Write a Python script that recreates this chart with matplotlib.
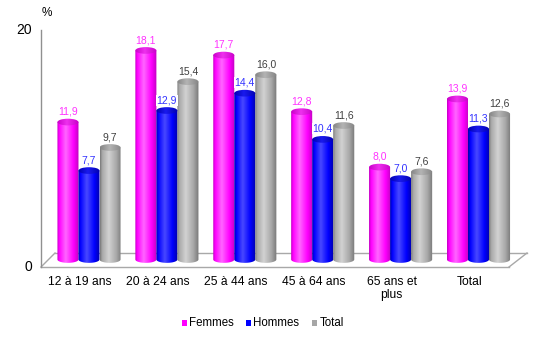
import numpy as np
import matplotlib
matplotlib.use("Agg")
import matplotlib.pyplot as plt
from matplotlib.patches import Ellipse, Polygon, Rectangle
from matplotlib.colors import LinearSegmentedColormap

plt.rcParams['font.family'] = ['Liberation Sans', 'DejaVu Sans']

# données
categories = ['12 à 19 ans', '20 à 24 ans', '25 à 44 ans', '45 à 64 ans', '65 ans et\nplus', 'Total']
series_names = ['Femmes', 'Hommes', 'Total']
femmes = [11.9, 18.1, 17.7, 12.8, 8.0, 13.9]
hommes = [7.7, 12.9, 14.4, 10.4, 7.0, 11.3]
total = [9.7, 15.4, 16.0, 11.6, 7.6, 12.6]
yticks = [0, 20]

# couleurs : (bord sombre, base, reflet), couleur du dessus, couleur du texte, légende
styles = [
    (('#c000c0', '#ff00ff', '#ff66ff'), ('#c800c8', '#ee30ee'), '#ff33ff', '#ff00ff'),
    (('#0000a8', '#0000ff', '#4848ff'), ('#0000b0', '#1a1aee'), '#3333ff', '#0000ff'),
    (('#767676', '#a8a8a8', '#d2d2d2'), ('#848484', '#b4b4b4'), '#404040', '#a6a6a6'),
]

fig = plt.figure(figsize=(5.5, 3.39), dpi=100)

# axe décoratif en pixels (sol, axe vertical, légende)
deco = fig.add_axes([0, 0, 1, 1], zorder=0)
deco.set_xlim(0, 550)
deco.set_ylim(339, 0)
deco.axis('off')

gc = '#a8a8a8'
deco.plot([55, 527], [253, 253], color=gc, lw=1)
deco.plot([41, 55], [267, 253], color=gc, lw=1)
deco.plot([41, 509], [267, 267], color=gc, lw=1)
deco.plot([509, 527], [267, 253], color=gc, lw=1)
deco.plot([41, 41], [30, 267], color='#909090', lw=1)

# axe des données
ax = fig.add_axes([0, 0, 1, 1], zorder=1)
ax.patch.set_alpha(0)
ax.axis('off')

px_x, px_w = 89.0, 77.9
px_y, px_h = 259.5, 11.55
xlim = (-px_x / px_w, (550 - px_x) / px_w)
ylim = ((px_y - 339) / px_h, px_y / px_h)

width = 0.27
eh = 0.58
x = np.arange(len(categories))
grad = np.linspace(0, 1, 256).reshape(1, -1)

for k, vals in enumerate([femmes, hommes, total]):
    (dark, base, light), (tdark, tlight), tcol, lcol = styles[k]
    body = LinearSegmentedColormap.from_list('b', [(0, dark), (0.1, base), (0.4, light),
                                                   (0.75, base), (1, dark)])
    topc = LinearSegmentedColormap.from_list('t', [(0, tdark), (0.45, tlight), (1, tdark)])
    bars = ax.bar(x + (k - 1) * width, vals, width, color='none', edgecolor='none')
    for b, v in zip(bars, vals):
        x0, w, h = b.get_x(), b.get_width(), b.get_height()
        cx = x0 + w / 2
        th = np.linspace(0, -np.pi, 40)
        pts = [(x0, h), (x0 + w, h)] + list(zip(cx + w / 2 * np.cos(th), eh / 2 * np.sin(th)))
        shape = Polygon(pts, closed=True, facecolor='none', edgecolor='none')
        ax.add_patch(shape)
        im = ax.imshow(grad, cmap=body, extent=[x0, x0 + w, -eh, h], aspect='auto',
                       interpolation='bilinear', zorder=2)
        im.set_clip_path(shape)
        top = Ellipse((cx, h), w, eh, facecolor='none', edgecolor='none')
        ax.add_patch(top)
        im2 = ax.imshow(grad, cmap=topc, extent=[x0, x0 + w, h - eh, h + eh], aspect='auto',
                        interpolation='bilinear', zorder=3)
        im2.set_clip_path(top)
        ax.annotate(f"{v:.1f}".replace('.', ','), (cx, h + eh / 2), xytext=(0, 1.5),
                    textcoords='offset points', ha='center', va='bottom',
                    fontsize=7.5, color=tcol, zorder=5,
                    bbox=dict(boxstyle='square,pad=0.05', facecolor='white', edgecolor='none'))

ax.set_xlim(*xlim)
ax.set_ylim(*ylim)

# étiquettes des catégories
for i, c in enumerate(categories):
    ax.text(i - 9 / px_w, (px_y - 276) / px_h, c, ha='center', va='top',
            fontsize=8.7, linespacing=1.15)

# graduations
for t in yticks:
    ypix = 267 - (267 - 30) * t / 20
    deco.text(32, ypix, str(t), ha='right', va='center', fontsize=10)
deco.text(47, 13, '%', ha='center', va='center', fontsize=8.5)

# légende
legx = [182, 246, 312]
for k, name in enumerate(series_names):
    deco.add_patch(Rectangle((legx[k], 320), 5, 6, facecolor=styles[k][3], edgecolor='none'))
    deco.text(legx[k] + 7.5, 323.5, name, ha='left', va='center', fontsize=8.3)

fig.savefig('out.png', dpi=100)
